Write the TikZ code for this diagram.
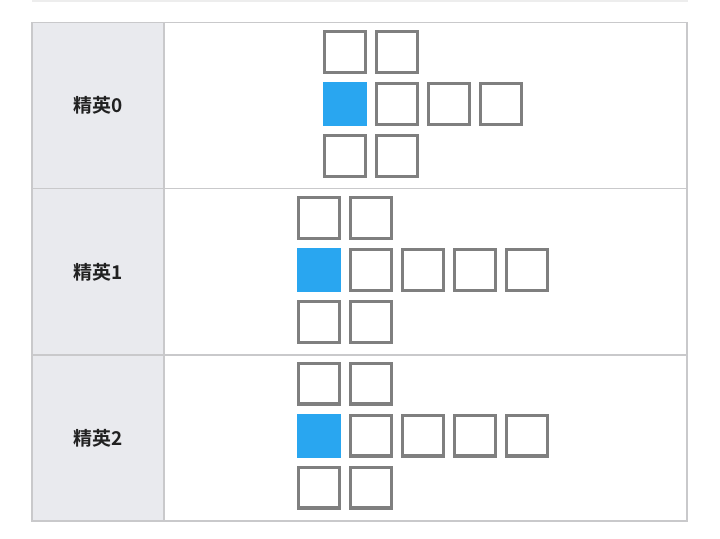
\documentclass[tikz,border=0pt]{standalone}
\usepackage{fontspec}
\newfontfamily\cjk{Noto Sans CJK SC}[BoldFont={Noto Sans CJK SC Bold}]
\usetikzlibrary{matrix,backgrounds}

\definecolor{rulegray}{HTML}{C9C9CB}
\definecolor{headfill}{HTML}{E9EAEE}
\definecolor{boxgray}{HTML}{7F7F7F}
\definecolor{selblue}{HTML}{29A6F0}

\tikzset{
  elite text/.style={font=\cjk\bfseries\fontsize{19}{22}\selectfont, text=black!87},
  rangegrid/.style={matrix of nodes, nodes in empty cells, column sep=8pt, row sep=8pt,
    nodes={draw=boxgray, line width=3.3pt, minimum size=40.7pt, inner sep=0pt}},
  sel/.style={draw=selblue, fill=selblue}
}

\begin{document}
\begin{tikzpicture}[x=1pt,y=-1pt]
		\useasboundingbox (0,0) rectangle (720,538);
		\fill[black!7] (32,0) rectangle (688,2);
		\fill[headfill] (32,22.5) rectangle (164,521);
		% table rules
		\draw[rulegray, line width=1.3pt] (32,22.5) rectangle (687,521);
		\draw[rulegray, line width=1.3pt] (164,22.5) -- (164,521);
		\draw[rulegray, line width=1.3pt] (32,188.5) -- (687,188.5);
		\draw[rulegray, line width=1.3pt] (32,355) -- (687,355);

		\node[elite text] (elite0) at (98,105.5) {精英0};
		\node[elite text] (elite1) at (98,272) {精英1};
		\node[elite text] (elite2) at (98,438) {精英2};

		\matrix (range0) [rangegrid] at (423,104)
		{
		& \\
		|[sel]| & & & \\
		& \\
		};
		\matrix (range1) [rangegrid] at (423,270)
		{
		& \\
		|[sel]| & & & & \\
		& \\
		};
		\matrix (range2) [rangegrid] at (423,435.5)
		{
		& \\
		|[sel]| & & & & \\
		& \\
		};
\end{tikzpicture}
\end{document}
